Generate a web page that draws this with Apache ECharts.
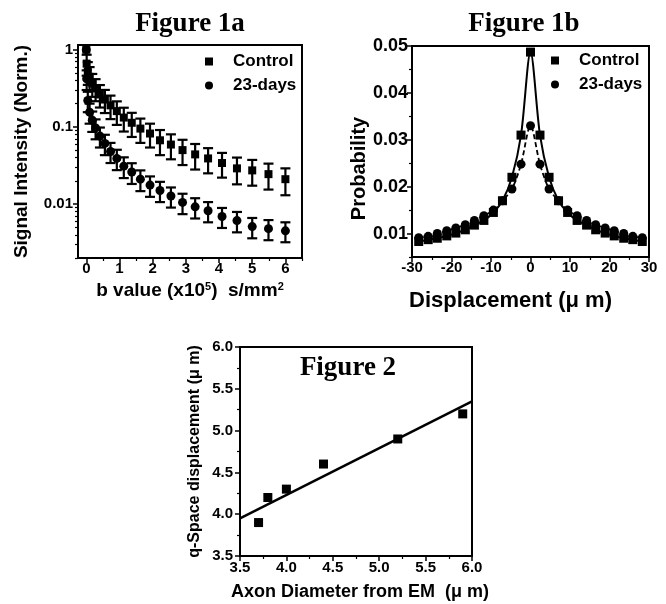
<!DOCTYPE html>
<html><head><meta charset="utf-8">
<script src="https://cdn.jsdelivr.net/npm/echarts@6/dist/echarts.min.js"></script>
<style>html,body{margin:0;padding:0;background:#fff}#c{width:666px;height:604px}</style>
</head><body><div id="c"></div>
<script>
// ---------- Figure 1a data ----------
const bValues = [0, 0.011, 0.045, 0.10, 0.18, 0.28, 0.41, 0.56, 0.73, 0.92, 1.13, 1.37, 1.63, 1.92, 2.22, 2.55, 2.90, 3.28, 3.67, 4.09, 4.54, 5.00, 5.49, 6.00];
const controlSignal = [1.0, 0.66, 0.52, 0.445, 0.365, 0.315, 0.263, 0.226, 0.19, 0.16, 0.132, 0.113, 0.095, 0.082, 0.067, 0.059, 0.050, 0.044, 0.039, 0.034, 0.029, 0.0273, 0.0244, 0.021];
const controlSignalErr = [0, 0.20, 0.17, 0.15, 0.12, 0.10, 0.085, 0.075, 0.064, 0.054, 0.045, 0.039, 0.033, 0.028, 0.024, 0.021, 0.018, 0.016, 0.014, 0.012, 0.011, 0.010, 0.009, 0.008];
const daysSignal = [1.0, 0.42, 0.22, 0.155, 0.122, 0.097, 0.076, 0.061, 0.048, 0.039, 0.031, 0.026, 0.021, 0.0176, 0.015, 0.0127, 0.0105, 0.0092, 0.0082, 0.0069, 0.0061, 0.0051, 0.0048, 0.0045];
const daysSignalErr = [0, 0.12, 0.065, 0.045, 0.036, 0.028, 0.022, 0.018, 0.014, 0.0115, 0.0093, 0.0078, 0.0063, 0.0052, 0.0044, 0.0037, 0.0031, 0.0027, 0.0024, 0.0020, 0.0018, 0.0015, 0.0014, 0.0013];
const bTickLabels = [0, 1, 2, 3, 4, 5, 6];
const bMinorTicks = [0.5, 1.5, 2.5, 3.5, 4.5, 5.5, 6.5];
const signalTickLabels = [0.01, 0.1, 1];
const signalMinorTicks = [0.002, 0.003, 0.004, 0.005, 0.006, 0.007, 0.008, 0.009, 0.02, 0.03, 0.04, 0.05, 0.06, 0.07, 0.08, 0.09, 0.2, 0.3, 0.4, 0.5, 0.6, 0.7, 0.8, 0.9];

// ---------- Figure 1b data ----------
const dispX = [-28.3, -25.9, -23.6, -21.2, -18.9, -16.5, -14.2, -11.8, -9.4, -7.1, -4.7, -2.4, 0, 2.4, 4.7, 7.1, 9.4, 11.8, 14.2, 16.5, 18.9, 21.2, 23.6, 25.9, 28.3];
const controlProb = [0.0083, 0.0087, 0.0090, 0.0095, 0.0101, 0.0108, 0.0118, 0.0128, 0.0145, 0.0170, 0.0220, 0.0310, 0.0487, 0.0310, 0.0220, 0.0170, 0.0145, 0.0128, 0.0118, 0.0108, 0.0101, 0.0095, 0.0090, 0.0087, 0.0083];
const daysProb = [0.0091, 0.0094, 0.0100, 0.0106, 0.0112, 0.0119, 0.0128, 0.0138, 0.0150, 0.0170, 0.0195, 0.0248, 0.0330, 0.0248, 0.0195, 0.0170, 0.0150, 0.0138, 0.0128, 0.0119, 0.0112, 0.0106, 0.0100, 0.0094, 0.0091];
const probTickLabels = [0.01, 0.02, 0.03, 0.04, 0.05];
const probMinorTicks = [0.005, 0.015, 0.025, 0.035, 0.045];

// ---------- Figure 2 data ----------
const axonDiameter = [3.7, 3.8, 4.0, 4.4, 5.2, 5.9];
const qDisplacement = [3.9, 4.2, 4.3, 4.6, 4.9, 5.2];
const fitDiameter = [3.5, 6.0];
const fitDisplacement = [3.95, 5.35];

// ---------- styling ----------
const SANS = 'Liberation Sans, Arial, sans-serif';
const SERIF = 'Liberation Serif, Times New Roman, serif';
const BLACK = '#000';
const lbl = {fontFamily: SANS, fontWeight: 'bold', fontSize: 15, color: BLACK};
const nameStyle = {fontFamily: SANS, fontWeight: 'bold', fontSize: 19, color: BLACK};
const axisLineOn = {show: true, onZero: false, lineStyle: {color: BLACK, width: 2}};
const majorTick = {show: true, inside: false, length: 5, lineStyle: {color: BLACK, width: 1.5}};
const minorTickStyle = {show: true, inside: false, length: 3, lineStyle: {color: BLACK, width: 1.2}};
const hidden = {axisLine: {show: false, onZero: false}, axisTick: {show: false}, axisLabel: {show: false}, splitLine: {show: false}};
const legendText = {fontFamily: SANS, fontWeight: 'bold', fontSize: 17, color: BLACK, padding: [0, 0, 0, 15]};

const zip = (a, b) => a.map((v, i) => [v, b[i]]);
const errData = (vals, errs) => bValues.map((x, i) => [x, vals[i] - errs[i], vals[i] + errs[i]]).filter((d, i) => errs[i] > 0);

function errorBar(params, api) {
  const x = api.value(0), lo = api.value(1), hi = api.value(2);
  const top = api.coord([x, hi]), bot = api.coord([x, lo]);
  const w = 5;
  const st = {stroke: BLACK, lineWidth: 2.2};
  return {type: 'group', children: [
    {type: 'line', shape: {x1: top[0], y1: top[1], x2: bot[0], y2: bot[1]}, style: st},
    {type: 'line', shape: {x1: top[0] - w, y1: top[1], x2: top[0] + w, y2: top[1]}, style: st},
    {type: 'line', shape: {x1: bot[0] - w, y1: bot[1], x2: bot[0] + w, y2: bot[1]}, style: st}
  ]};
}

const fmtSignal = v => String(Number(Math.pow(10, v).toPrecision(1)));
const titleStyle = {fontFamily: SERIF, fontWeight: 'bold', fontSize: 27, color: BLACK};

const option = {
  backgroundColor: '#fff',
  animation: false,
  title: [
    {text: 'Figure 1a', left: 190, top: 11, textAlign: 'center', padding: 0, textStyle: titleStyle},
    {text: 'Figure 1b', left: 524, top: 11, textAlign: 'center', padding: 0, textStyle: titleStyle},
    {text: 'Figure 2', left: 348, top: 355, textAlign: 'center', padding: 0, textStyle: titleStyle}
  ],
  legend: [
    {left: 205, top: 53, orient: 'vertical', padding: 0, itemWidth: 8, itemHeight: 8, itemGap: 7, selectedMode: false,
     data: [{name: 'Control', icon: 'rect'}, {name: '23-days', icon: 'circle'}], textStyle: legendText},
    {left: 551, top: 52, orient: 'vertical', padding: 0, itemWidth: 8, itemHeight: 8, itemGap: 7, selectedMode: false,
     data: [{name: 'Control', icon: 'rect'}, {name: '23-days', icon: 'circle'}], textStyle: legendText}
  ],
  grid: [
    {left: 78, top: 45, width: 224, height: 213, show: true, borderColor: BLACK, borderWidth: 2, containLabel: false, outerBoundsMode: 'none'},
    {left: 412, top: 46, width: 237, height: 211, show: true, borderColor: BLACK, borderWidth: 2, containLabel: false, outerBoundsMode: 'none'},
    {left: 240, top: 347, width: 232, height: 209, show: true, borderColor: BLACK, borderWidth: 2, containLabel: false, outerBoundsMode: 'none'}
  ],
  xAxis: [
    {gridIndex: 0, type: 'value', position: 'bottom', min: -0.25, max: 6.5,
     axisLine: axisLineOn, splitLine: {show: false},
     axisTick: Object.assign({}, majorTick, {customValues: bTickLabels}),
     axisLabel: Object.assign({}, lbl, {margin: 3, customValues: bTickLabels}),
     name: 'b value (x10{sup|5})  s/mm{sup|2}', nameLocation: 'middle', nameGap: 23,
     nameTextStyle: Object.assign({}, nameStyle, {rich: {sup: {fontFamily: SANS, fontWeight: 'bold', fontSize: 11, color: BLACK, verticalAlign: 'top', padding: [0, 0, 4, 0]}}})},
    Object.assign({gridIndex: 0, type: 'value', position: 'bottom', min: -0.25, max: 6.5}, hidden,
     {axisTick: Object.assign({}, minorTickStyle, {customValues: bMinorTicks})}),
    {gridIndex: 1, type: 'value', position: 'bottom', min: -30, max: 30, interval: 10,
     axisLine: axisLineOn, splitLine: {show: false}, axisTick: majorTick,
     minorTick: {show: true, splitNumber: 2, length: 3, lineStyle: {color: BLACK, width: 1.2}},
     axisLabel: Object.assign({}, lbl, {margin: 3}),
     name: 'Displacement (μ m)', nameLocation: 'middle', nameGap: 33,
     nameTextStyle: Object.assign({}, nameStyle, {fontSize: 22, padding: [0, 40, 0, 0]})},
    {gridIndex: 2, type: 'value', position: 'bottom', min: 3.5, max: 6.0, interval: 0.5,
     axisLine: axisLineOn, splitLine: {show: false}, axisTick: majorTick,
     minorTick: {show: true, splitNumber: 2, length: 3, lineStyle: {color: BLACK, width: 1.2}},
     axisLabel: Object.assign({}, lbl, {margin: 4, formatter: v => v.toFixed(1)}),
     name: 'Axon Diameter from EM  (μ m)', nameLocation: 'middle', nameGap: 27,
     nameTextStyle: Object.assign({}, nameStyle, {fontSize: 18, padding: [0, 0, 0, 8]})}
  ],
  yAxis: [
    Object.assign({gridIndex: 0, type: 'log', position: 'left', min: 0.002, max: 1.15}, hidden),
    {gridIndex: 0, type: 'value', position: 'left', min: Math.log10(0.002), max: Math.log10(1.15),
     axisLine: axisLineOn, splitLine: {show: false},
     axisTick: Object.assign({}, majorTick, {customValues: signalTickLabels.map(Math.log10)}),
     axisLabel: Object.assign({}, lbl, {margin: 5, customValues: signalTickLabels.map(Math.log10), formatter: fmtSignal}),
     name: 'Signal Intensity (Norm.)', nameLocation: 'middle', nameGap: 47, nameTextStyle: nameStyle},
    Object.assign({gridIndex: 0, type: 'value', position: 'left', min: Math.log10(0.002), max: Math.log10(1.15)}, hidden,
     {axisTick: Object.assign({}, minorTickStyle, {customValues: signalMinorTicks.map(Math.log10)})}),
    {gridIndex: 1, type: 'value', position: 'left', min: 0.005, max: 0.05,
     axisLine: axisLineOn, splitLine: {show: false},
     axisTick: Object.assign({}, majorTick, {customValues: probTickLabels}),
     axisLabel: Object.assign({}, lbl, {fontSize: 18, margin: 4, customValues: probTickLabels, formatter: v => v.toFixed(2)}),
     name: 'Probability', nameLocation: 'middle', nameGap: 43,
     nameTextStyle: Object.assign({}, nameStyle, {fontSize: 20, padding: [0, 34, 0, 0]})},
    Object.assign({gridIndex: 1, type: 'value', position: 'left', min: 0.005, max: 0.05}, hidden,
     {axisTick: Object.assign({}, minorTickStyle, {customValues: probMinorTicks})}),
    {gridIndex: 2, type: 'value', position: 'left', min: 3.5, max: 6.0, interval: 0.5,
     axisLine: axisLineOn, splitLine: {show: false}, axisTick: majorTick,
     minorTick: {show: true, splitNumber: 2, length: 3, lineStyle: {color: BLACK, width: 1.2}},
     axisLabel: Object.assign({}, lbl, {margin: 7, formatter: v => v.toFixed(1)}),
     name: 'q-Space displacement (μ m)', nameLocation: 'middle', nameGap: 37,
     nameTextStyle: Object.assign({}, nameStyle, {fontSize: 16})}
  ],
  series: [
    {type: 'custom', name: 'Control err', xAxisIndex: 0, yAxisIndex: 0, renderItem: errorBar,
     encode: {x: 0, y: [1, 2]}, data: errData(controlSignal, controlSignalErr), z: 2, silent: true},
    {type: 'custom', name: '23-days err', xAxisIndex: 0, yAxisIndex: 0, renderItem: errorBar,
     encode: {x: 0, y: [1, 2]}, data: errData(daysSignal, daysSignalErr), z: 2, silent: true},
    {type: 'scatter', name: 'Control', xAxisIndex: 0, yAxisIndex: 0, symbol: 'rect', symbolSize: 8,
     itemStyle: {color: BLACK, opacity: 1}, data: zip(bValues, controlSignal), z: 3},
    {type: 'scatter', name: '23-days', xAxisIndex: 0, yAxisIndex: 0, symbol: 'circle', symbolSize: 9,
     itemStyle: {color: BLACK, opacity: 1}, data: zip(bValues, daysSignal), z: 3},

    {type: 'line', name: 'Control fit', xAxisIndex: 2, yAxisIndex: 3, smooth: 0.3, showSymbol: false,
     lineStyle: {color: BLACK, width: 2}, data: zip(dispX, controlProb), z: 2},
    {type: 'line', name: '23-days fit', xAxisIndex: 2, yAxisIndex: 3, smooth: 0.3, showSymbol: false,
     lineStyle: {color: BLACK, width: 1.8, type: [5, 3]}, data: zip(dispX, daysProb), z: 2},
    {type: 'scatter', name: 'Control', xAxisIndex: 2, yAxisIndex: 3, symbol: 'rect', symbolSize: 9,
     itemStyle: {color: BLACK, opacity: 1}, data: zip(dispX, controlProb), z: 3},
    {type: 'scatter', name: '23-days', xAxisIndex: 2, yAxisIndex: 3, symbol: 'circle', symbolSize: 9,
     itemStyle: {color: BLACK, opacity: 1}, data: zip(dispX, daysProb), z: 3},

    {type: 'scatter', name: 'Axon', xAxisIndex: 3, yAxisIndex: 5, symbol: 'rect', symbolSize: 9,
     itemStyle: {color: BLACK, opacity: 1}, data: zip(axonDiameter, qDisplacement), z: 3},
    {type: 'line', name: 'Axon fit', xAxisIndex: 3, yAxisIndex: 5, showSymbol: false,
     lineStyle: {color: BLACK, width: 2.5}, data: zip(fitDiameter, fitDisplacement), z: 2}
  ]
};

const chart = echarts.init(document.getElementById('c'), null, {renderer: 'canvas'});
chart.setOption(option);
</script>
</body></html>
